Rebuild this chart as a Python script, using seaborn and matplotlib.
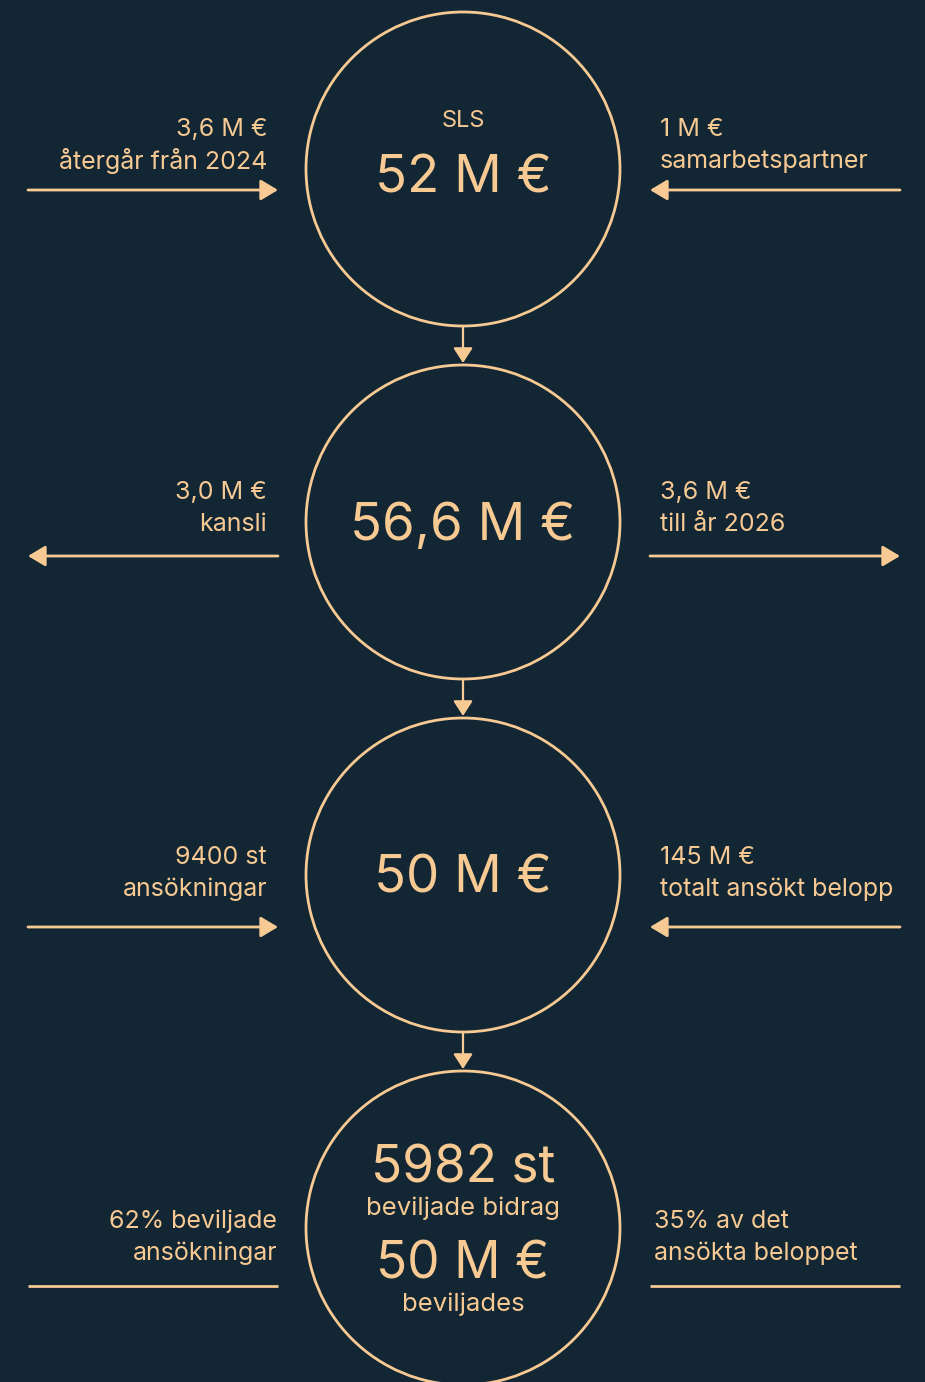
import seaborn as sns
import matplotlib.pyplot as plt
from matplotlib.patches import Circle

# --- flow data ---
centre_labels = ["52 M €", "56,6 M €", "50 M €", ""]
left_amounts = ["3,6 M €", "3,0 M €", "9400 st", "62% beviljade"]
left_notes = ["återgår från 2024", "kansli", "ansökningar", "ansökningar"]
right_amounts = ["1 M €", "3,6 M €", "145 M €", "35% av det"]
right_notes = ["samarbetspartner", "till år 2026", "totalt ansökt belopp", "ansökta beloppet"]
# direction of side flows: 'in' toward the circle, 'out' away from it, None plain line
left_dir = ["in", "out", "in", None]
right_dir = ["in", "out", "in", None]

BG = "#132634"
FG = "#F7C993"

sns.set_style("dark")
plt.rcParams['font.family'] = ['Inter', 'DejaVu Sans']

fig = plt.figure(figsize=(9.25, 13.82), dpi=100)
fig.patch.set_facecolor(BG)
ax = fig.add_axes([0, 0, 1, 1])
ax.set_facecolor(BG)
ax.set_xlim(0, 925)
ax.set_ylim(1382, 0)
ax.axis('off')

cx = 463
r = 157
cys = [169, 522, 875, 1228]
line_y = [190, 556, 927, 1286]
text_y = [129, 492, 857, 1221]
label_off = [10, 4, 4, 0]

aprops = dict(arrowstyle='-|>,head_length=0.75,head_width=0.45', color=FG, lw=2,
              shrinkA=0, shrinkB=0, mutation_scale=14)


def side(x_in, x_out, y, d):
    if d == "in":
        ax.annotate("", xy=(x_in, y), xytext=(x_out, y), arrowprops=aprops)
    elif d == "out":
        ax.annotate("", xy=(x_out, y), xytext=(x_in, y), arrowprops=aprops)
    else:
        ax.plot([x_in, x_out], [y, y], color=FG, lw=2, solid_capstyle='butt')


for i, cy in enumerate(cys):
    ax.add_patch(Circle((cx, cy), r, fill=False, ec=FG, lw=2))

    # connector to next circle
    if i < len(cys) - 1:
        ax.annotate("", xy=(cx, cys[i + 1] - r - 2), xytext=(cx, cy + r),
                    arrowprops=dict(arrowstyle='-|>,head_length=0.7,head_width=0.45',
                                    color=FG, lw=1.6, shrinkA=0, shrinkB=0,
                                    mutation_scale=13))

    side(278, 28, line_y[i], left_dir[i])
    side(650, 900, line_y[i], right_dir[i])

    # side texts
    lx = 267 if i < 3 else 277
    rx = 660 if i < 3 else 654
    ty = text_y[i]
    ax.text(lx, ty, left_amounts[i], ha='right', va='center', color=FG, fontsize=18)
    ax.text(lx, ty + 32, left_notes[i], ha='right', va='center', color=FG, fontsize=18)
    ax.text(rx, ty, right_amounts[i], ha='left', va='center', color=FG, fontsize=18)
    ax.text(rx, ty + 32, right_notes[i], ha='left', va='center', color=FG, fontsize=18)

    if centre_labels[i]:
        ax.text(cx, cy + label_off[i], centre_labels[i], ha='center', va='center',
                color=FG, fontsize=38)

ax.text(cx, 121, "SLS", ha='center', va='center', color=FG, fontsize=17)

# last circle: granted
ax.text(cx, 1169, "5982 st", ha='center', va='center', color=FG, fontsize=37)
ax.text(cx, 1208, "beviljade bidrag", ha='center', va='center', color=FG, fontsize=18.5)
ax.text(cx, 1265, "50 M €", ha='center', va='center', color=FG, fontsize=37)
ax.text(cx, 1304, "beviljades", ha='center', va='center', color=FG, fontsize=18.5)

fig.savefig("out.png", dpi=100, facecolor=BG)
